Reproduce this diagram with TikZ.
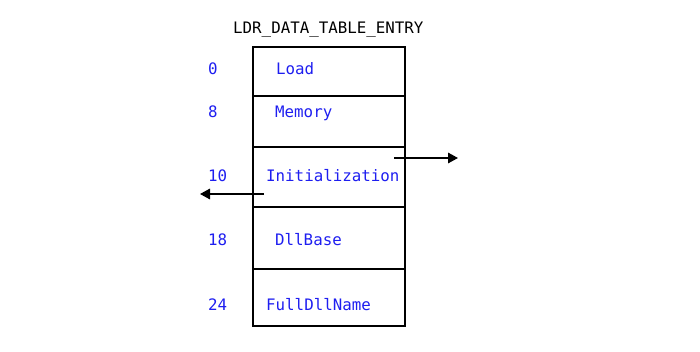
\documentclass[tikz,border=0pt]{standalone}
\usepackage{fontspec}
\setmonofont{DejaVu Sans Mono}
\usetikzlibrary{arrows.meta}
\definecolor{fieldBlue}{RGB}{30,30,240}
\begin{document}
\begin{tikzpicture}
[x=1pt,y=-1pt,%
  rowBox/.style={shape=rectangle,draw,line width=1.6pt,minimum width=152pt,inner sep=0pt,outer sep=0pt},%
  plainText/.style={anchor=base west,inner sep=0pt,font=\ttfamily\fontsize{15.8}{18}\selectfont},%
  fieldText/.style={plainText,text=fieldBlue},%
  ptrArrow/.style={-{Triangle[length=10pt,width=10.5pt]},line width=1.6pt}]
\useasboundingbox (0,0) rectangle (700,352);
%% structure title
\node (title) at (233,34) [plainText] {LDR\_DATA\_TABLE\_ENTRY};
%% rows of the structure
\foreach \rowname/\y/\h in {load/71.5/49, mem/121.5/51, init/177/60, base/238/62, full/297.5/57}
{
  \node (\rowname) at (329,\y) [rowBox,minimum height=\h pt] {};
}
%% field names and offsets
\foreach \fieldname/\x/\y/\txt/\off in {load/276/75/Load/0, mem/275/118/Memory/8,
  init/266/182/Initialization/10, base/275/246/DllBase/18, full/266/310/FullDllName/24}
{
  \node (\fieldname-name) at (\x,\y) [fieldText] {\txt};
  \node (\fieldname-off) at (208,\y) [fieldText] {\off};
}
%% pointer arrows
\coordinate (outPtr) at (458,158);
\coordinate (inPtr) at (200,194);
\draw[ptrArrow] ([xshift=-11pt,yshift=-11pt]init.north east) -- (outPtr);
\draw[ptrArrow] ([xshift=11pt,yshift=13pt]init.south west) -- (inPtr);
\end{tikzpicture}
\end{document}
